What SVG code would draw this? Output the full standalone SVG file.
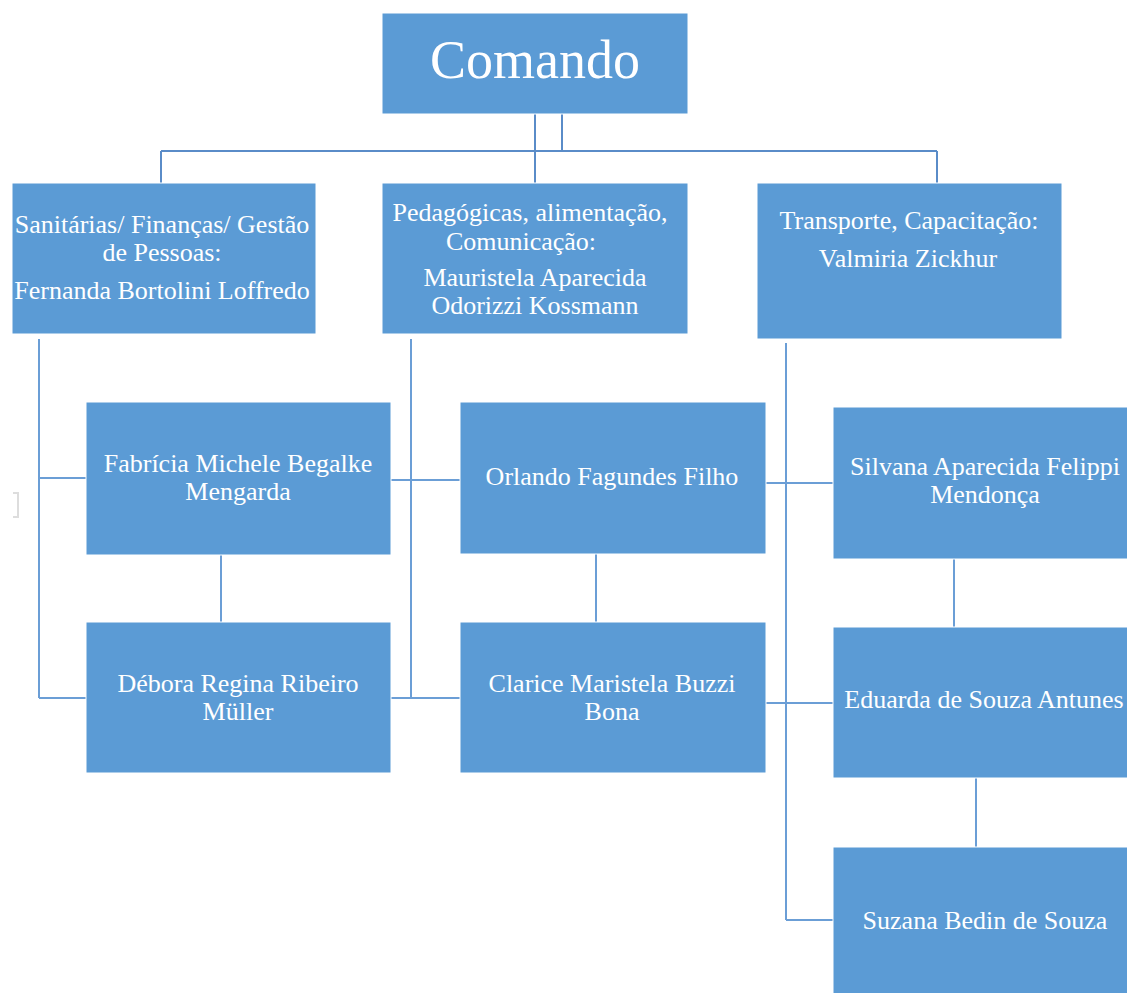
<svg xmlns="http://www.w3.org/2000/svg" width="1127" height="993" viewBox="0 0 1127 993">
<style>
.box{fill:#5b9bd5;stroke:#ffffff;stroke-width:1}
.t{font-family:"Liberation Serif","DejaVu Serif",serif;font-size:26px;fill:#ffffff;text-anchor:middle}
.big{font-size:54px}
.ln{fill:none;stroke:#6b9ed6;stroke-width:2}
.top{stroke:#5a8cc8}
</style>
<rect x="0" y="0" width="1127" height="993" fill="#ffffff"/>
<g id="connectors">
<path class="ln top" d="M535,114 V183 M562,114 V151 M161,151 H937 M161,151 V183 M937,151 V183"/>
<path class="ln" d="M39,339 V698 M39,478 H86 M39,698 H86 M221,555 V622"/>
<path class="ln" d="M411,339 V698 M391,480 H460 M391,698 H460 M596,554 V622"/>
<path class="ln" d="M786,343 V920 M766,483 H833 M766,703 H833 M786,920 H833 M954,559 V627 M976,778 V847"/>
<path d="M13,493 H18 V517 H13" fill="none" stroke="#dddddd" stroke-width="2"/>
</g>
<g id="comando">
<rect class="box" x="382" y="13" width="306" height="101"/>
<text class="t big" x="535" y="78">Comando</text>
</g>
<g id="sanitarias">
<rect class="box" x="12" y="183" width="304" height="151"/>
<text class="t" x="162" y="233">Sanitárias/ Finanças/ Gestão</text>
<text class="t" x="162" y="261">de Pessoas:</text>
<text class="t" x="162" y="299">Fernanda Bortolini Loffredo</text>
</g>
<g id="pedagogicas">
<rect class="box" x="382" y="183" width="306" height="151"/>
<text class="t" x="530" y="221">Pedagógicas, alimentação,</text>
<text class="t" x="521" y="250">Comunicação:</text>
<text class="t" x="535" y="286">Mauristela Aparecida</text>
<text class="t" x="535" y="314">Odorizzi Kossmann</text>
</g>
<g id="transporte">
<rect class="box" x="757" y="183" width="305" height="156"/>
<text class="t" x="909" y="229">Transporte, Capacitação:</text>
<text class="t" x="908" y="267">Valmiria Zickhur</text>
</g>
<g id="fabricia">
<rect class="box" x="86" y="402" width="305" height="153"/>
<text class="t" x="238" y="472">Fabrícia Michele Begalke</text>
<text class="t" x="238" y="500">Mengarda</text>
</g>
<g id="debora">
<rect class="box" x="86" y="622" width="305" height="151"/>
<text class="t" x="238" y="692">Débora Regina Ribeiro</text>
<text class="t" x="238" y="720">Müller</text>
</g>
<g id="orlando">
<rect class="box" x="460" y="402" width="306" height="152"/>
<text class="t" x="612" y="485">Orlando Fagundes Filho</text>
</g>
<g id="clarice">
<rect class="box" x="460" y="622" width="306" height="151"/>
<text class="t" x="612" y="692">Clarice Maristela Buzzi</text>
<text class="t" x="612" y="720">Bona</text>
</g>
<g id="silvana">
<rect class="box" x="833" y="407" width="300" height="152"/>
<text class="t" x="985" y="475">Silvana Aparecida Felippi</text>
<text class="t" x="985" y="503">Mendonça</text>
</g>
<g id="eduarda">
<rect class="box" x="833" y="627" width="300" height="151"/>
<text class="t" x="984" y="708">Eduarda de Souza Antunes</text>
</g>
<g id="suzana">
<rect class="box" x="833" y="847" width="300" height="150"/>
<text class="t" x="985" y="929">Suzana Bedin de Souza</text>
</g>
</svg>
